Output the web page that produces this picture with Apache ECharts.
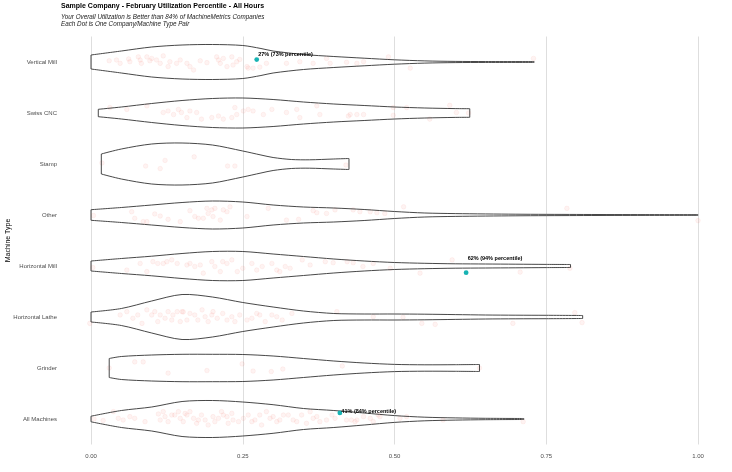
<!DOCTYPE html>
<html><head><meta charset="utf-8">
<script src="https://cdn.jsdelivr.net/npm/echarts@6/dist/echarts.min.js"></script>
<style>html,body{margin:0;padding:0;background:#fff}#c{width:732px;height:472px}</style>
</head><body><div id="c"></div>
<script>
// ---------- DATA ----------
const categories = ['Vertical Mill','Swiss CNC','Stamp','Other','Horizontal Mill','Horizontal Lathe','Grinder','All Machines'];
const xTicks = [0, 0.25, 0.5, 0.75, 1.0];

// violin outlines: [utilization, half-width (density units)]
const violinVerticalMill = [[0,7],[0.05,11],[0.10,15],[0.15,17],[0.20,17.5],[0.25,16.5],[0.28,13.5],[0.30,11],[0.35,7.5],[0.40,5.5],[0.45,3.8],[0.50,2.2],[0.55,1.1],[0.60,0.6],[0.65,0.45],[0.73,0.4]];
const violinSwissCNC = [[0.012,3.7],[0.05,6],[0.10,9.5],[0.15,12.5],[0.20,14.5],[0.25,15],[0.30,13.5],[0.35,11],[0.40,9],[0.45,7.5],[0.50,6],[0.55,5],[0.60,4.4],[0.624,4.3]];
const violinStamp = [[0.017,10],[0.05,15],[0.10,20],[0.15,21],[0.20,19],[0.25,13],[0.28,9],[0.30,6.5],[0.33,4.5],[0.36,4.2],[0.40,5],[0.425,5.5]];
const violinOther = [[0,5.3],[0.05,7.5],[0.10,10],[0.15,12.5],[0.20,14],[0.25,13],[0.30,10],[0.35,8],[0.40,7],[0.45,5.5],[0.50,3.5],[0.55,2],[0.60,1.4],[0.70,0.8],[0.80,0.55],[0.90,0.4],[1.0,0.3]];
const violinHorizontalMill = [[0,5],[0.05,7.5],[0.10,9.8],[0.15,12.5],[0.20,14.5],[0.25,14.5],[0.30,12],[0.35,9.5],[0.40,7],[0.45,5],[0.50,3.5],[0.55,2.7],[0.60,2.2],[0.65,2],[0.70,1.8],[0.75,1.6],[0.79,1.5]];
const violinHorizontalLathe = [[0,5],[0.05,8.5],[0.10,16],[0.15,22.5],[0.20,20],[0.25,14.5],[0.30,10],[0.35,6],[0.40,3.5],[0.45,3],[0.50,3],[0.55,2.8],[0.60,2.4],[0.65,2],[0.70,1.8],[0.75,1.7],[0.81,1.5]];
const violinGrinder = [[0.03,9.5],[0.05,11.5],[0.10,13],[0.15,13.7],[0.20,13.7],[0.25,13.5],[0.30,12],[0.35,9.5],[0.40,7],[0.45,5],[0.50,3.6],[0.55,3.2],[0.60,3.3],[0.64,3.5]];
const violinAllMachines = [[0,2.8],[0.05,8.5],[0.10,12],[0.15,17.5],[0.20,18.5],[0.25,17],[0.30,14.3],[0.35,10.5],[0.40,8.5],[0.45,6],[0.50,3.4],[0.55,1.8],[0.60,1.1],[0.65,0.7],[0.713,0.5]];

// jittered company dots: [utilization, jitter offset (fraction of band)]
const dotsVerticalMill = [[0.030,-0.025],[0.042,-0.04],[0.048,0.026],[0.062,-0.06],[0.064,-0.006],[0.078,-0.10],[0.081,-0.04],[0.083,0.026],[0.092,-0.10],[0.097,-0.025],[0.100,-0.07],[0.108,-0.04],[0.114,0.026],[0.119,-0.12],[0.127,0.09],[0.130,-0.006],[0.141,0.026],[0.147,-0.04],[0.158,0.026],[0.163,0.09],[0.169,0.157],[0.180,-0.025],[0.191,0.013],[0.207,-0.10],[0.210,-0.04],[0.213,0.026],[0.218,-0.07],[0.224,0.09],[0.232,-0.10],[0.234,0.06],[0.240,-0.006],[0.245,-0.05],[0.257,0.09],[0.259,0.12],[0.267,0.12],[0.278,0.10],[0.289,0.026],[0.322,0.026],[0.344,-0.006],[0.366,0.026],[0.388,-0.07],[0.394,0.026],[0.421,0.006],[0.438,0.026],[0.449,-0.006],[0.490,-0.10],[0.526,0.12],[0.729,-0.07]];
const dotsSwissCNC = [[0.031,-0.106],[0.059,-0.07],[0.092,-0.14],[0.119,-0.01],[0.127,-0.04],[0.136,0.03],[0.144,-0.07],[0.149,-0.01],[0.158,0.09],[0.163,-0.04],[0.174,-0.01],[0.182,0.12],[0.199,0.09],[0.210,0.06],[0.218,0.12],[0.232,0.09],[0.237,-0.106],[0.240,0.03],[0.251,-0.04],[0.259,-0.07],[0.267,-0.04],[0.284,0.03],[0.298,-0.07],[0.322,-0.01],[0.339,-0.07],[0.344,0.09],[0.372,-0.14],[0.377,0.03],[0.424,0.06],[0.427,0.03],[0.438,0.03],[0.449,0.03],[0.498,-0.106],[0.498,0.045],[0.520,-0.106],[0.558,0.12],[0.591,-0.15],[0.602,-0.01],[0.622,0.0]];
const dotsStamp = [[0.018,-0.02],[0.090,0.04],[0.114,0.09],[0.122,-0.07],[0.170,-0.14],[0.225,0.04],[0.237,0.04],[0.420,0.02]];
const dotsOther = [[0.004,0.01],[0.067,-0.065],[0.072,0.065],[0.086,0.13],[0.092,0.13],[0.105,-0.02],[0.114,0.02],[0.127,0.085],[0.147,0.13],[0.163,-0.085],[0.171,0.03],[0.177,0.065],[0.185,0.065],[0.191,-0.13],[0.193,-0.03],[0.199,-0.10],[0.201,0.03],[0.204,-0.13],[0.213,0.10],[0.218,-0.10],[0.224,-0.065],[0.229,-0.16],[0.257,0.03],[0.292,-0.13],[0.322,0.10],[0.342,0.085],[0.366,-0.085],[0.372,-0.045],[0.388,-0.03],[0.402,-0.10],[0.432,-0.10],[0.443,-0.065],[0.460,-0.065],[0.471,-0.045],[0.484,-0.03],[0.515,-0.16],[0.784,-0.13],[1.0,0.11]];
const dotsHorizontalMill = [[0.003,0.03],[0.059,0.08],[0.081,-0.05],[0.092,0.11],[0.102,-0.085],[0.110,-0.05],[0.119,-0.05],[0.125,-0.085],[0.133,-0.12],[0.142,-0.05],[0.158,-0.02],[0.163,-0.05],[0.171,0.01],[0.180,-0.02],[0.185,0.14],[0.199,-0.085],[0.204,0.01],[0.213,0.11],[0.217,-0.085],[0.224,-0.05],[0.232,-0.12],[0.241,0.11],[0.250,0.045],[0.265,-0.05],[0.273,0.08],[0.282,0.01],[0.298,-0.05],[0.306,0.08],[0.311,0.11],[0.320,0.01],[0.328,0.045],[0.348,-0.12],[0.361,-0.02],[0.386,-0.085],[0.399,-0.065],[0.422,-0.085],[0.432,-0.065],[0.448,0.01],[0.465,-0.05],[0.493,0.045],[0.542,0.14],[0.595,-0.12],[0.707,0.12],[0.789,0.045]];
const dotsHorizontalLathe = [[-0.002,0.125],[0.048,-0.04],[0.059,-0.105],[0.069,0.025],[0.077,-0.04],[0.084,0.125],[0.092,-0.14],[0.100,-0.04],[0.105,-0.105],[0.110,0.09],[0.114,-0.04],[0.122,0.025],[0.127,-0.105],[0.133,0.06],[0.135,-0.04],[0.142,-0.105],[0.147,0.09],[0.150,-0.105],[0.152,-0.10],[0.158,0.06],[0.163,-0.07],[0.171,-0.04],[0.176,0.06],[0.183,-0.14],[0.188,-0.005],[0.193,0.09],[0.199,-0.04],[0.201,-0.105],[0.208,0.025],[0.217,-0.07],[0.224,0.06],[0.232,-0.005],[0.237,0.09],[0.245,-0.04],[0.257,0.06],[0.265,0.025],[0.273,-0.07],[0.278,-0.04],[0.287,0.09],[0.298,-0.04],[0.306,-0.005],[0.315,0.06],[0.331,-0.07],[0.405,-0.105],[0.465,-0.005],[0.514,0.005],[0.545,0.125],[0.567,0.145],[0.695,0.125],[0.797,-0.085],[0.809,0.11]];
const dotsGrinder = [[0.030,0.0],[0.072,-0.12],[0.086,-0.12],[0.127,0.10],[0.191,0.05],[0.249,-0.08],[0.267,0.06],[0.297,0.07],[0.316,0.02],[0.414,-0.04],[0.640,0.0]];
const dotsAllMachines = [[0.005,0.0],[0.020,0.03],[0.037,-0.144],[0.045,-0.013],[0.053,0.02],[0.064,-0.046],[0.072,-0.013],[0.089,0.052],[0.111,-0.098],[0.114,0.02],[0.119,-0.144],[0.122,-0.046],[0.127,0.052],[0.133,-0.078],[0.138,-0.078],[0.144,-0.144],[0.147,-0.013],[0.152,0.052],[0.155,-0.11],[0.158,-0.078],[0.163,-0.144],[0.169,-0.013],[0.174,0.085],[0.177,0.02],[0.182,-0.078],[0.188,0.02],[0.193,0.118],[0.201,-0.046],[0.204,0.052],[0.210,-0.013],[0.215,-0.144],[0.218,-0.078],[0.224,-0.046],[0.226,0.085],[0.232,-0.11],[0.234,0.02],[0.243,0.052],[0.251,-0.013],[0.259,-0.078],[0.265,0.052],[0.270,0.02],[0.278,-0.078],[0.281,0.118],[0.289,-0.144],[0.295,-0.013],[0.300,-0.046],[0.306,0.052],[0.311,0.02],[0.317,-0.078],[0.325,-0.078],[0.333,0.02],[0.339,0.052],[0.347,-0.078],[0.355,0.085],[0.361,-0.144],[0.366,-0.013],[0.372,-0.046],[0.377,0.052],[0.388,0.02],[0.397,-0.078],[0.402,-0.013],[0.421,0.02],[0.429,0.02],[0.435,0.052],[0.438,0.02],[0.449,-0.046],[0.460,-0.013],[0.465,0.052],[0.473,-0.078],[0.476,-0.046],[0.509,-0.013],[0.520,-0.046],[0.580,0.02],[0.712,0.052]];

// highlighted company values
const highlightCategories = ['Vertical Mill','Horizontal Mill','All Machines'];
const highlightValues = [0.273, 0.618, 0.41];
const highlightJitter = [-0.047, 0.13, -0.12];
const highlightLabels = ['27% (73% percentile)','62% (94% percentile)','41% (84% percentile)'];

const titleText = 'Sample Company - February Utilization Percentile - All Hours';
const subtitleText = 'Your Overall Utilization is Better than 84% of MachineMetrics Companies\nEach Dot is One Company/Machine Type Pair';
const yAxisTitle = 'Machine Type';

// ---------- BUILD ----------
const violins = [violinVerticalMill, violinSwissCNC, violinStamp, violinOther, violinHorizontalMill, violinHorizontalLathe, violinGrinder, violinAllMachines];
const dots = [dotsVerticalMill, dotsSwissCNC, dotsStamp, dotsOther, dotsHorizontalMill, dotsHorizontalLathe, dotsGrinder, dotsAllMachines];
const VIOLIN_UNIT = 1 / 51;
const FONT = '"Liberation Sans", Arial, Helvetica, sans-serif';

const dotData = [];
dots.forEach((arr, ci) => arr.forEach(d => dotData.push([d[0], ci, d[1]])));
const violinData = categories.map((c, i) => [0, i]);
const hlData = highlightCategories.map((c, i) => [highlightValues[i], categories.indexOf(c), highlightJitter[i], i]);

const chart = echarts.init(document.getElementById('c'), null, {renderer: 'canvas'});
chart.setOption({
  backgroundColor: '#fff',
  animation: false,
  graphic: [
    {type: 'text', left: 61, top: 3, style: {text: titleText, font: 'bold 7px ' + FONT, fill: '#000'}},
    {type: 'text', left: 61, top: 13.6, style: {text: subtitleText, font: 'italic 6.3px ' + FONT, lineHeight: 7.2, fill: '#1a1a1a'}}
  ],
  grid: {left: 91, right: 34, top: 36.5, bottom: 27.5, containLabel: false, outerBoundsMode: 'none'},
  xAxis: {
    type: 'value', min: 0, max: 1, interval: 0.25,
    axisLine: {show: false}, axisTick: {show: false},
    axisLabel: {formatter: v => v.toFixed(2), fontSize: 6, color: '#4d4d4d', margin: 9, fontFamily: FONT},
    splitLine: {show: true, lineStyle: {color: '#dedede', width: 1}}
  },
  yAxis: {
    type: 'category', data: categories, inverse: true,
    axisLine: {show: false}, axisTick: {show: false},
    axisLabel: {fontSize: 6, color: '#4d4d4d', margin: 34, fontFamily: FONT},
    splitLine: {show: false},
    name: yAxisTitle, nameLocation: 'middle', nameGap: 79, nameRotate: 90, nameMoveOverlap: false,
    nameTextStyle: {fontSize: 7, color: '#000', fontFamily: FONT}
  },
  series: [
    {
      type: 'custom', clip: false, z: 2,
      data: dotData, encode: {x: 0, y: 1},
      renderItem: (params, api) => {
        const p = api.coord([api.value(0), api.value(1)]);
        const band = api.size([0, 1])[1];
        return {type: 'circle', shape: {cx: p[0], cy: p[1] + api.value(2) * band, r: 2.3},
          style: {fill: 'rgba(248,118,109,0.09)', stroke: 'rgba(248,118,109,0.14)', lineWidth: 0.6}};
      }
    },
    {
      type: 'custom', clip: false, z: 3,
      data: violinData, encode: {x: 0, y: 1},
      renderItem: (params, api) => {
        const i = params.dataIndex;
        const prof = violins[i];
        const band = api.size([0, 1])[1];
        const up = [], lo = [];
        prof.forEach(([x, w]) => {
          const p = api.coord([x, i]);
          const h = w * VIOLIN_UNIT * band;
          up.push([p[0], p[1] - h]); lo.push([p[0], p[1] + h]);
        });
        const st = {stroke: '#333', lineWidth: 0.9, fill: null};
        return {type: 'group', children: [
          {type: 'polyline', shape: {points: up, smooth: 0.3}, style: st},
          {type: 'polyline', shape: {points: lo, smooth: 0.3}, style: st},
          {type: 'line', shape: {x1: up[0][0], y1: up[0][1], x2: lo[0][0], y2: lo[0][1]}, style: st},
          {type: 'line', shape: {x1: up[up.length-1][0], y1: up[up.length-1][1], x2: lo[lo.length-1][0], y2: lo[lo.length-1][1]}, style: st}
        ]};
      }
    },
    {
      type: 'custom', clip: false, z: 5,
      data: hlData, encode: {x: 0, y: 1},
      renderItem: (params, api) => {
        const ci = api.value(1);
        const p = api.coord([api.value(0), ci]);
        const band = api.size([0, 1])[1];
        return {type: 'group', children: [
          {type: 'circle', shape: {cx: p[0], cy: p[1] + api.value(2) * band, r: 2.4}, style: {fill: '#17b3b3'}},
          {type: 'text', style: {text: highlightLabels[api.value(3)], x: p[0] + 1.5, y: p[1] - 0.14 * band,
            fill: '#000', fontSize: 5.5, fontWeight: 'bold', fontFamily: FONT, align: 'left', verticalAlign: 'middle'}}
        ]};
      }
    }
  ]
});
</script>
</body></html>
